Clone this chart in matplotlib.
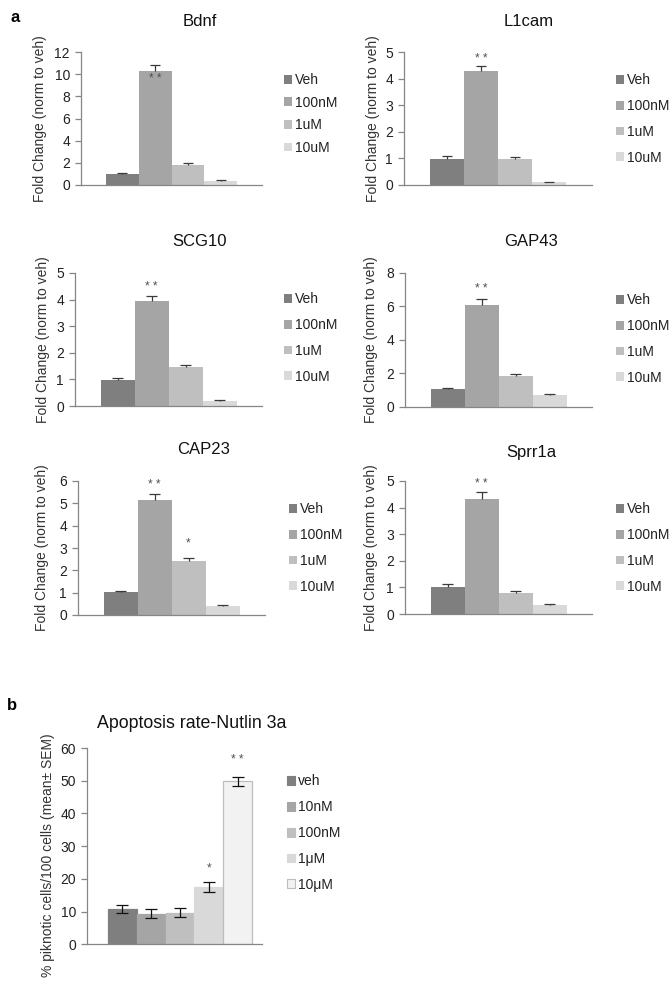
import matplotlib
matplotlib.use("Agg")
import matplotlib.pyplot as plt
from matplotlib.patches import Patch

plt.rcParams['font.family'] = ['Liberation Sans', 'DejaVu Sans']

W, H = 672, 986

# ---------------- data ----------------
doses_a = ['Veh', '100nM', '1uM', '10uM']
colors_a = ['#7f7f7f', '#a5a5a5', '#bfbfbf', '#d9d9d9']

bdnf_mean = [0.99, 10.25, 1.80, 0.37]
bdnf_err = [0.06, 0.60, 0.15, 0.07]
l1cam_mean = [0.97, 4.27, 0.97, 0.10]
l1cam_err = [0.11, 0.22, 0.07, 0.03]
scg10_mean = [0.98, 3.95, 1.45, 0.20]
scg10_err = [0.08, 0.20, 0.11, 0.03]
gap43_mean = [1.04, 6.10, 1.80, 0.70]
gap43_err = [0.04, 0.35, 0.14, 0.05]
cap23_mean = [1.01, 5.15, 2.42, 0.40]
cap23_err = [0.08, 0.25, 0.15, 0.03]
sprr1a_mean = [1.03, 4.32, 0.80, 0.34]
sprr1a_err = [0.09, 0.25, 0.05, 0.03]

genes = ['Bdnf', 'L1cam', 'SCG10', 'GAP43', 'CAP23', 'Sprr1a']
means_a = [bdnf_mean, l1cam_mean, scg10_mean, gap43_mean, cap23_mean, sprr1a_mean]
errs_a = [bdnf_err, l1cam_err, scg10_err, gap43_err, cap23_err, sprr1a_err]
ymax_a = [12, 5, 5, 8, 6, 5]
ystep_a = [2, 1, 1, 2, 1, 1]
# significance marks: (bar index, text, y)
sig_a = [
    [(1, '* *', 9.55)],
    [(1, '* *', 4.72)],
    [(1, '* *', 4.46)],
    [(1, '* *', 7.03)],
    [(1, '* *', 5.82), (2, '*', 3.21)],
    [(1, '* *', 4.90)],
]

doses_b = ['veh', '10nM', '100nM', '1μM', '10μM']
colors_b = ['#7f7f7f', '#a5a5a5', '#bfbfbf', '#d9d9d9', '#f2f2f2']
apop_mean = [10.9, 9.4, 9.65, 17.6, 49.8]
apop_err = [1.2, 1.3, 1.35, 1.5, 1.45]
sig_b = [(3, '*', 23.2), (4, '* *', 56.2)]

# ---------------- layout (pixels) ----------------
# left, right, top, bottom of each plot area
rects_a = [
    (81, 262, 52, 185),
    (404, 592, 52, 185),
    (75, 262, 273, 406),
    (405, 592, 273, 406.5),
    (78, 265, 481, 615),
    (405, 592, 481, 614),
]
title_pos_a = [(200, 22), (529, 22), (200, 241), (531, 242), (204, 449), (531, 453)]
ylab_x_a = [40, 373, 43, 371, 42, 371]
leg_pos_a = [(284, 114), (616, 119), (284, 338), (616, 339), (289, 548), (616, 548)]
leg_space_a = [0.62, 0.85, 0.85, 0.85, 0.85, 0.85]

axis_col = '#868686'


def frect(l, r, t, b):
    return [l / W, 1 - b / H, (r - l) / W, (b - t) / H]


def fx(x):
    return x / W


def fy(y):
    return 1 - y / H


fig = plt.figure(figsize=(W / 100, H / 100), dpi=100)


def style_axes(ax):
    for s in ['top', 'right']:
        ax.spines[s].set_visible(False)
    for s in ['left', 'bottom']:
        ax.spines[s].set_color(axis_col)
        ax.spines[s].set_linewidth(0.9)
    ax.tick_params(axis='y', direction='out', length=4, width=0.9, color=axis_col,
                   labelsize=10, labelcolor='#222222', pad=4)
    ax.tick_params(axis='x', length=0, labelbottom=False)


for i in range(6):
    l, r, t, b = rects_a[i]
    ax = fig.add_axes(frect(l, r, t, b))
    xs = list(range(len(doses_a)))
    ax.bar(xs, means_a[i], width=1.0, color=colors_a, linewidth=0)
    tops = [m + e for m, e in zip(means_a[i], errs_a[i])]
    # one-sided (upper) error bars
    ax.vlines(xs, means_a[i], tops, colors='#3a3a3a', linewidth=0.9)
    ax.hlines(tops, [x - 0.15 for x in xs], [x + 0.15 for x in xs],
              colors='#3a3a3a', linewidth=0.9)
    for (k, s, yv) in sig_a[i]:
        ax.text(k, yv, s, ha='center', va='center', fontsize=8.5, color='#505050')
    ax.set_xlim(-1.25, 4.25)
    ax.set_ylim(0, ymax_a[i])
    ax.set_yticks(list(range(0, ymax_a[i] + 1, ystep_a[i])))
    style_axes(ax)
    tx, ty = title_pos_a[i]
    fig.text(fx(tx), fy(ty), genes[i], ha='center', va='center', fontsize=12, color='#111111')
    fig.text(fx(ylab_x_a[i]), fy((t + b) / 2), 'Fold Change (norm to veh)', rotation=90,
             ha='center', va='center', fontsize=10, color='#333333')
    handles = [Patch(facecolor=c, edgecolor='none') for c in colors_a]
    lx, ly = leg_pos_a[i]
    fig.legend(handles, doses_a, loc='center left', bbox_to_anchor=(fx(lx), fy(ly)),
               frameon=False, fontsize=10, handlelength=0.6, handleheight=0.6,
               handletextpad=0.2, labelspacing=leg_space_a[i], borderpad=0, borderaxespad=0,
               labelcolor='#222222')

# ---------------- panel b ----------------
axb = fig.add_axes(frect(87, 262, 748, 944.3))
xb = list(range(len(doses_b)))
edges_b = ['#7f7f7f', '#a5a5a5', '#bfbfbf', '#d9d9d9', '#bdbdbd']
axb.bar(xb, apop_mean, width=1.0, color=colors_b, edgecolor=edges_b, linewidth=0.9)
axb.errorbar(xb, apop_mean, yerr=apop_err, fmt='none', ecolor='#111111',
             elinewidth=0.9, capsize=4.3, capthick=0.9)
for (k, s, yv) in sig_b:
    axb.text(k, yv, s, ha='center', va='center', fontsize=8.5, color='#505050')
axb.set_xlim(-1.23, 4.85)
axb.set_ylim(0, 60)
axb.set_yticks(list(range(0, 61, 10)))
style_axes(axb)
fig.text(fx(192), fy(723), 'Apoptosis rate-Nutlin 3a', ha='center', va='center',
         fontsize=12.8, color='#111111')
fig.text(fx(48), fy(855), '% piknotic cells/100 cells (mean± SEM)', rotation=90,
         ha='center', va='center', fontsize=10, color='#333333')
handles_b = [Patch(facecolor=c, edgecolor=e, linewidth=0.8) for c, e in zip(colors_b, edges_b)]
fig.legend(handles_b, doses_b, loc='center left', bbox_to_anchor=(fx(287), fy(833)),
           frameon=False, fontsize=10, handlelength=0.6, handleheight=0.6,
           handletextpad=0.2, labelspacing=0.85, borderpad=0, borderaxespad=0,
           labelcolor='#222222')

fig.text(fx(15), fy(17), 'a', ha='center', va='center', fontsize=12, fontweight='bold')
fig.text(fx(12), fy(705), 'b', ha='center', va='center', fontsize=12, fontweight='bold')

fig.savefig('out.png', dpi=100, facecolor='white')
